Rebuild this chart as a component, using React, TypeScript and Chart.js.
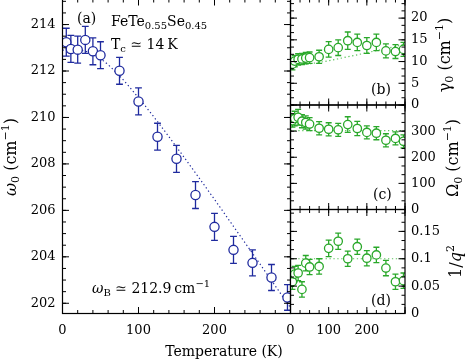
import React, { useEffect, useRef } from 'react';
import { Chart, registerables } from 'chart.js';

Chart.register(...registerables);

// ---------------- data ----------------
const temperatures = [5, 11, 20, 30, 40, 50, 75, 100, 125, 150, 175, 200, 225, 250, 275, 296];

const omegaValues = [213.24, 212.95, 212.92, 213.34, 212.85, 212.68, 212.01, 210.69, 209.17, 208.22, 206.66, 205.29, 204.3, 203.74, 203.11, 202.25];
const omegaErrors = [0.6, 0.58, 0.58, 0.58, 0.58, 0.58, 0.58, 0.58, 0.58, 0.58, 0.58, 0.58, 0.58, 0.56, 0.56, 0.55];

const gammaValues = [9.4, 10.1, 10.5, 10.6, 10.8, 10.9, 11.1, 12.8, 13.2, 14.8, 14.4, 13.7, 14.4, 12.45, 12.3, 12.8];
const gammaErrors = [1.3, 1.3, 1.3, 1.3, 1.3, 1.3, 1.5, 1.8, 1.8, 2.0, 1.9, 1.8, 1.9, 1.6, 1.6, 1.6];

const bigOmegaValues = [340, 348, 353, 338, 333, 327, 311, 307, 305, 325, 310, 295, 292, 265, 272, 261];
const bigOmegaErrors = [25, 28, 30, 25, 25, 25, 25, 25, 25, 30, 27, 25, 25, 25, 25, 25];

const invQ2Values = [0.058, 0.072, 0.074, 0.044, 0.092, 0.085, 0.086, 0.119, 0.132, 0.1, 0.122, 0.101, 0.107, 0.083, 0.058, 0.06];
const invQ2Errors = [0.014, 0.014, 0.014, 0.014, 0.014, 0.014, 0.014, 0.015, 0.015, 0.014, 0.014, 0.014, 0.014, 0.014, 0.014, 0.014];

const fitTemperatures = [0, 25, 50, 75, 100, 125, 150, 175, 200, 225, 250, 275, 300];
const omegaFit = [212.9, 212.88, 212.53, 211.79, 210.85, 209.82, 208.73, 207.61, 206.47, 205.31, 204.15, 202.98, 201.81];
const gammaFit = [9.35, 9.36, 9.5, 9.81, 10.2, 10.64, 11.1, 11.56, 12.04, 12.52, 13.0, 13.5, 13.99];
const bigOmegaFit = [302, 302, 302, 302, 302, 302, 302, 302, 302, 302, 302, 302, 302];
const invQ2Fit = [0.1, 0.1, 0.1, 0.1, 0.1, 0.1, 0.1, 0.1, 0.1, 0.1, 0.1, 0.1, 0.1];

// ticks
const mainXTicks = [0, 100, 200, 300];
const mainXLabels = ['0', '100', '200', ''];
const mainYTicks = [202, 204, 206, 208, 210, 212, 214];
const mainYLabels = ['202', '204', '206', '208', '210', '212', '214'];
const smallXTicks = [0, 100, 200, 300];
const smallXLabels = ['0', '100', '200', ''];
const gammaTicks = [0, 5, 10, 15, 20];
const gammaLabels = ['0', '5', '10', '15', '20'];
const bigOmegaTicks = [0, 100, 200, 300];
const bigOmegaLabels = ['0', '100', '200', '300'];
const invQ2Ticks = [0, 0.05, 0.1, 0.15];
const invQ2Labels = ['0', '0.05', '0.1', '0.15'];

// ---------------- style ----------------
const FONT = "'DejaVu Serif', 'Liberation Serif', serif";
const BLUE = '#1f2a9e';
const GREEN = '#2aa82a';
const GREEN_FIT = '#5cc45c';

type Seg = { t: string; s: number; dy?: number; it?: boolean };

function setFont(ctx: CanvasRenderingContext2D, g: Seg) {
  ctx.font = `${g.it ? 'italic ' : ''}${g.s}px ${FONT}`;
}
function richWidth(ctx: CanvasRenderingContext2D, segs: Seg[]) {
  let w = 0;
  for (const g of segs) {
    setFont(ctx, g);
    w += ctx.measureText(g.t).width;
  }
  return w;
}
function drawRich(ctx: CanvasRenderingContext2D, segs: Seg[], x: number, y: number, align: 'left' | 'center' = 'left') {
  const w = richWidth(ctx, segs);
  let cx = align === 'center' ? x - w / 2 : x;
  ctx.textAlign = 'left';
  ctx.textBaseline = 'alphabetic';
  ctx.fillStyle = '#000';
  for (const g of segs) {
    setFont(ctx, g);
    ctx.fillText(g.t, cx, y + (g.dy || 0));
    cx += ctx.measureText(g.t).width;
  }
}
function drawRotated(ctx: CanvasRenderingContext2D, segs: Seg[], x: number, y: number) {
  ctx.save();
  ctx.translate(x, y);
  ctx.rotate(-Math.PI / 2);
  drawRich(ctx, segs, 0, 0, 'center');
  ctx.restore();
}

// ---------------- plugins ----------------
const errorBarPlugin = {
  id: 'errorBars',
  beforeDatasetDraw(chart: any, args: any) {
    const ds: any = chart.data.datasets[args.index];
    if (!ds.errors) return;
    const meta = args.meta;
    const xs = meta.xScale;
    const ys = meta.yScale;
    const ctx: CanvasRenderingContext2D = chart.ctx;
    const a = chart.chartArea;
    ctx.save();
    ctx.beginPath();
    ctx.rect(a.left, a.top, a.right - a.left, a.bottom - a.top);
    ctx.clip();
    ctx.strokeStyle = ds.borderColor;
    ctx.lineWidth = 1.3;
    const cap = ds.capHalf || 3.3;
    ds.data.forEach((p: any, i: number) => {
      const e = ds.errors[i];
      const x = xs.getPixelForValue(p.x);
      const y1 = ys.getPixelForValue(p.y - e);
      const y2 = ys.getPixelForValue(p.y + e);
      ctx.beginPath();
      ctx.moveTo(x, y1);
      ctx.lineTo(x, y2);
      ctx.moveTo(x - cap, y1);
      ctx.lineTo(x + cap, y1);
      ctx.moveTo(x - cap, y2);
      ctx.lineTo(x + cap, y2);
      ctx.stroke();
    });
    ctx.restore();
  },
};

function minorValues(min: number, max: number, step: number) {
  const out: number[] = [];
  const start = Math.ceil(min / step - 1e-9);
  const end = Math.floor(max / step + 1e-9);
  for (let i = start; i <= end; i++) out.push(i * step);
  return out;
}

type Spec = {
  canvas: { left: number; top: number; width: number; height: number };
  area: { l: number; t: number; r: number; b: number };
  xMin: number; xMax: number; xTicks: number[]; xLabels: string[]; xShowLabels: boolean; xMinor: number;
  yMin: number; yMax: number; yTicks: number[]; yLabels: string[]; yPosition: 'left' | 'right'; yMinor: number;
  datasets: any[];
  annotate: (ctx: CanvasRenderingContext2D) => void;
};

function buildConfig(spec: Spec): any {
  const c = spec.canvas, a = spec.area;
  const L = a.l - c.left, T = a.t - c.top, R = a.r - c.left, B = a.b - c.top;
  const yRight = spec.yPosition === 'right';
  const yWidth = yRight ? c.width - R : L;
  const xHeight = spec.xShowLabels ? c.height - B : 0;
  const padding = {
    top: T,
    left: yRight ? L : 0,
    right: yRight ? 0 : c.width - R,
    bottom: spec.xShowLabels ? 0 : c.height - B,
  };

  const frameTicks = {
    id: 'frameTicks',
    afterDatasetsDraw(chart: any) {
      const ctx: CanvasRenderingContext2D = chart.ctx;
      const ar = chart.chartArea;
      const xs = chart.scales.x;
      const ys = chart.scales.y;
      ctx.save();
      ctx.strokeStyle = '#000';
      ctx.lineWidth = 1;
      const line = (x1: number, y1: number, x2: number, y2: number) => {
        ctx.beginPath();
        ctx.moveTo(x1, y1);
        ctx.lineTo(x2, y2);
        ctx.stroke();
      };
      const MAJ = 6.5, MIN = 3.5;
      minorValues(spec.xMin, spec.xMax, spec.xMinor).forEach((v) => {
        const px = xs.getPixelForValue(v);
        line(px, ar.bottom, px, ar.bottom - MIN);
        line(px, ar.top, px, ar.top + MIN);
      });
      spec.xTicks.forEach((v) => {
        const px = xs.getPixelForValue(v);
        line(px, ar.bottom, px, ar.bottom - MAJ);
        line(px, ar.top, px, ar.top + MAJ);
      });
      minorValues(spec.yMin, spec.yMax, spec.yMinor).forEach((v) => {
        const py = ys.getPixelForValue(v);
        line(ar.left, py, ar.left + MIN, py);
        line(ar.right, py, ar.right - MIN, py);
      });
      spec.yTicks.forEach((v) => {
        const py = ys.getPixelForValue(v);
        line(ar.left, py, ar.left + MAJ, py);
        line(ar.right, py, ar.right - MAJ, py);
      });
      ctx.lineWidth = 1.2;
      ctx.strokeRect(ar.left, ar.top, ar.right - ar.left, ar.bottom - ar.top);
      ctx.restore();
    },
    afterDraw(chart: any) {
      const ctx: CanvasRenderingContext2D = chart.ctx;
      ctx.save();
      ctx.translate(-c.left, -c.top);
      spec.annotate(ctx);
      ctx.restore();
    },
  };

  const tickFont = { family: FONT, size: 13 };

  return {
    type: 'scatter',
    data: { datasets: spec.datasets },
    plugins: [errorBarPlugin, frameTicks],
    options: {
      responsive: false,
      maintainAspectRatio: false,
      animation: false,
      devicePixelRatio: 1,
      events: [],
      layout: { padding, autoPadding: false },
      plugins: { legend: { display: false }, tooltip: { enabled: false } },
      scales: {
        x: {
          type: 'linear',
          position: 'bottom',
          min: spec.xMin,
          max: spec.xMax,
          display: spec.xShowLabels,
          grid: { display: false, drawTicks: false },
          border: { display: false },
          ticks: {
            display: spec.xShowLabels,
            color: '#000',
            font: tickFont,
            padding: 9,
            maxRotation: 0,
            minRotation: 0,
            autoSkip: false,
            callback: (_v: any, i: number) => spec.xLabels[i],
          },
          afterBuildTicks: (s: any) => {
            s.ticks = spec.xTicks.map((v) => ({ value: v }));
          },
          afterFit: (s: any) => {
            s.height = xHeight;
            s.paddingLeft = 0;
            s.paddingRight = 0;
            s.paddingTop = 0;
            s.paddingBottom = 0;
          },
        },
        y: {
          type: 'linear',
          position: spec.yPosition,
          min: spec.yMin,
          max: spec.yMax,
          grid: { display: false, drawTicks: false },
          border: { display: false },
          ticks: {
            color: '#000',
            font: tickFont,
            padding: yRight ? 6 : 7,
            autoSkip: false,
            callback: (_v: any, i: number) => spec.yLabels[i],
          },
          afterBuildTicks: (s: any) => {
            s.ticks = spec.yTicks.map((v) => ({ value: v }));
          },
          afterFit: (s: any) => {
            s.width = yWidth;
            s.paddingLeft = 0;
            s.paddingRight = 0;
            s.paddingTop = 0;
            s.paddingBottom = 0;
          },
        },
      },
    },
  };
}

function points(xs: number[], ys: number[]) {
  return xs.map((x, i) => ({ x, y: ys[i] }));
}

function fitSet(ys: number[], color: string) {
  return {
    data: points(fitTemperatures, ys),
    showLine: true,
    borderColor: color,
    borderWidth: 1.2,
    borderDash: [1.3, 2.6],
    pointRadius: 0,
    fill: false,
    cubicInterpolationMode: 'monotone',
    order: 2,
  };
}
function dataSet(ys: number[], errs: number[], color: string, r: number, capHalf: number) {
  return {
    data: points(temperatures, ys),
    errors: errs,
    capHalf,
    borderColor: color,
    backgroundColor: '#fff',
    pointBackgroundColor: '#fff',
    pointBorderColor: color,
    pointRadius: r,
    pointBorderWidth: 1.3,
    showLine: false,
    clip: 0,
    order: 1,
  };
}

const S14 = 14;
const S10 = 10;

const specs: Spec[] = [
  {
    canvas: { left: 0, top: -1, width: 300, height: 364 },
    area: { l: 62.5, t: -1, r: 290.5, b: 313.5 },
    xMin: 0, xMax: 300, xTicks: mainXTicks, xLabels: mainXLabels, xShowLabels: true, xMinor: 20,
    yMin: 201.56, yMax: 215.1, yTicks: mainYTicks, yLabels: mainYLabels, yPosition: 'left', yMinor: 0.5,
    datasets: [fitSet(omegaFit, BLUE), dataSet(omegaValues, omegaErrors, BLUE, 4.6, 3.4)],
    annotate: (ctx) => {
      drawRich(ctx, [{ t: '(a)', s: S14 }], 77, 23);
      drawRich(ctx, [
        { t: 'FeTe', s: S14 }, { t: '0.55', s: S10, dy: 3 },
        { t: 'Se', s: S14 }, { t: '0.45', s: S10, dy: 3 },
      ], 111, 26);
      drawRich(ctx, [{ t: 'T', s: S14 }, { t: 'c', s: S10, dy: 3 }, { t: ' \u2243 14\u2009K', s: S14 }], 111, 49);
      drawRich(ctx, [
        { t: '\u03c9', s: S14, it: true }, { t: 'B', s: S10, dy: 3 },
        { t: ' \u2243 212.9\u2009cm', s: S14 }, { t: '\u22121', s: S10, dy: -6 },
      ], 92, 293);
      drawRich(ctx, [{ t: 'Temperature (K)', s: S14 }], 224, 356, 'center');
      drawRotated(ctx, [
        { t: '\u03c9', s: 16, it: true }, { t: '0', s: 11, dy: 3.5 },
        { t: ' (cm', s: 16 }, { t: '\u22121', s: 11, dy: -7 }, { t: ')', s: 16 },
      ], 15.5, 157);
    },
  },
  {
    canvas: { left: 280, top: -1, width: 191, height: 116 },
    area: { l: 290.5, t: -1, r: 405, b: 105 },
    xMin: 0, xMax: 300, xTicks: smallXTicks, xLabels: smallXLabels, xShowLabels: false, xMinor: 25,
    yMin: 0, yMax: 24.4, yTicks: gammaTicks, yLabels: gammaLabels, yPosition: 'right', yMinor: 5 / 3,
    datasets: [fitSet(gammaFit, GREEN_FIT), dataSet(gammaValues, gammaErrors, GREEN, 4.2, 3)],
    annotate: (ctx) => {
      drawRich(ctx, [{ t: '(b)', s: S14 }], 371, 94);
      drawRotated(ctx, [
        { t: '\u03b3', s: 16 }, { t: '0', s: 11, dy: 3.5 },
        { t: ' (cm', s: 16 }, { t: '\u22121', s: 11, dy: -7 }, { t: ')', s: 16 },
      ], 449.5, 55);
    },
  },
  {
    canvas: { left: 280, top: 95, width: 191, height: 126 },
    area: { l: 290.5, t: 105, r: 405, b: 209.5 },
    xMin: 0, xMax: 300, xTicks: smallXTicks, xLabels: smallXLabels, xShowLabels: false, xMinor: 25,
    yMin: 0, yMax: 400, yTicks: bigOmegaTicks, yLabels: bigOmegaLabels, yPosition: 'right', yMinor: 100 / 3,
    datasets: [fitSet(bigOmegaFit, GREEN_FIT), dataSet(bigOmegaValues, bigOmegaErrors, GREEN, 4.2, 3)],
    annotate: (ctx) => {
      drawRich(ctx, [{ t: '(c)', s: S14 }], 373, 199);
      drawRotated(ctx, [
        { t: '\u03a9', s: 16 }, { t: '0', s: 11, dy: 3.5 },
        { t: ' (cm', s: 16 }, { t: '\u22121', s: 11, dy: -7 }, { t: ')', s: 16 },
      ], 458, 158);
    },
  },
  {
    canvas: { left: 280, top: 199, width: 191, height: 164 },
    area: { l: 290.5, t: 209.5, r: 405, b: 313.5 },
    xMin: 0, xMax: 300, xTicks: smallXTicks, xLabels: smallXLabels, xShowLabels: true, xMinor: 25,
    yMin: 0, yMax: 0.19, yTicks: invQ2Ticks, yLabels: invQ2Labels, yPosition: 'right', yMinor: 0.05 / 3,
    datasets: [fitSet(invQ2Fit, GREEN_FIT), dataSet(invQ2Values, invQ2Errors, GREEN, 4.2, 3)],
    annotate: (ctx) => {
      drawRich(ctx, [{ t: '(d)', s: S14 }], 371, 305);
      drawRotated(ctx, [
        { t: '1/', s: 16 }, { t: 'q', s: 16, it: true }, { t: '2', s: 11, dy: -7 },
      ], 461, 261.5);
    },
  },
];

function Panel({ spec }: { spec: Spec }) {
  const ref = useRef<HTMLCanvasElement>(null);
  useEffect(() => {
    const chart = new Chart(ref.current as HTMLCanvasElement, buildConfig(spec));
    return () => chart.destroy();
  }, [spec]);
  const c = spec.canvas;
  return (
    <canvas
      ref={ref}
      width={c.width}
      height={c.height}
      style={{ position: 'absolute', left: c.left, top: c.top, width: c.width, height: c.height, display: 'block' }}
    />
  );
}

export default function App() {
  return (
    <div
      style={{
        position: 'absolute',
        left: 0,
        top: 0,
        width: 471,
        height: 363,
        overflow: 'hidden',
        background: '#fff',
      }}
    >
      {specs.map((s, i) => (
        <Panel key={i} spec={s} />
      ))}
    </div>
  );
}
